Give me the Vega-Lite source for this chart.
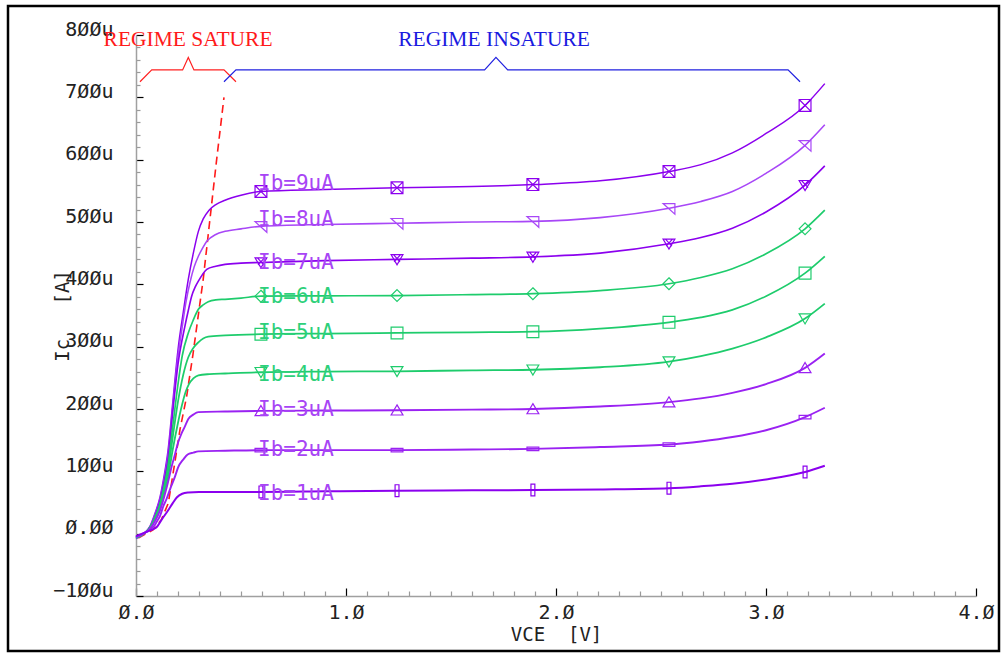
{
"$schema": "https://vega.github.io/schema/vega-lite/v6.json",
"width": 991, "height": 645,
"autosize": {"type": "none"},
"padding": {"left": 8, "top": 6, "right": 4, "bottom": 2},
"background": "#ffffff",
"config": {"view": {"stroke": "#000000", "strokeWidth": 2.5}, "axis": {"grid": false}},
"datasets": {
"curves": [
{"Ib":"9","V":0,"Ic":-8},{"Ib":"9","V":0.045,"Ic":2},{"Ib":"9","V":0.067,"Ic":12},{"Ib":"9","V":0.09,"Ic":32},{"Ib":"9","V":0.114,"Ic":58},{"Ib":"9","V":0.135,"Ic":95},{"Ib":"9","V":0.152,"Ic":132},{"Ib":"9","V":0.175,"Ic":210},{"Ib":"9","V":0.2,"Ic":295},{"Ib":"9","V":0.225,"Ic":355},{"Ib":"9","V":0.249,"Ic":408},{"Ib":"9","V":0.273,"Ic":450},{"Ib":"9","V":0.297,"Ic":485},{"Ib":"9","V":0.32,"Ic":505},{"Ib":"9","V":0.348,"Ic":519},{"Ib":"9","V":0.38,"Ic":528},{"Ib":"9","V":0.424,"Ic":535},{"Ib":"9","V":0.5,"Ic":543},{"Ib":"9","V":0.595,"Ic":549},{"Ib":"9","V":0.9,"Ic":552},{"Ib":"9","V":1.243,"Ic":555},{"Ib":"9","V":1.6,"Ic":557},{"Ib":"9","V":1.89,"Ic":560},{"Ib":"9","V":2.21,"Ic":566},{"Ib":"9","V":2.538,"Ic":581},{"Ib":"9","V":2.69,"Ic":592},{"Ib":"9","V":2.84,"Ic":611},{"Ib":"9","V":3.0,"Ic":642},{"Ib":"9","V":3.186,"Ic":687},{"Ib":"9","V":3.28,"Ic":722},
{"Ib":"8","V":0,"Ic":-8},{"Ib":"8","V":0.045,"Ic":2},{"Ib":"8","V":0.067,"Ic":11},{"Ib":"8","V":0.09,"Ic":30},{"Ib":"8","V":0.114,"Ic":55},{"Ib":"8","V":0.135,"Ic":90},{"Ib":"8","V":0.152,"Ic":125},{"Ib":"8","V":0.175,"Ic":202},{"Ib":"8","V":0.2,"Ic":285},{"Ib":"8","V":0.218,"Ic":327},{"Ib":"8","V":0.237,"Ic":370},{"Ib":"8","V":0.257,"Ic":403},{"Ib":"8","V":0.277,"Ic":428},{"Ib":"8","V":0.297,"Ic":445},{"Ib":"8","V":0.317,"Ic":458},{"Ib":"8","V":0.337,"Ic":469},{"Ib":"8","V":0.38,"Ic":480},{"Ib":"8","V":0.424,"Ic":485},{"Ib":"8","V":0.5,"Ic":489},{"Ib":"8","V":0.595,"Ic":493},{"Ib":"8","V":0.9,"Ic":496},{"Ib":"8","V":1.243,"Ic":498},{"Ib":"8","V":1.6,"Ic":500},{"Ib":"8","V":1.89,"Ic":501},{"Ib":"8","V":2.21,"Ic":507},{"Ib":"8","V":2.538,"Ic":522},{"Ib":"8","V":2.69,"Ic":533},{"Ib":"8","V":2.84,"Ic":549},{"Ib":"8","V":3.0,"Ic":578},{"Ib":"8","V":3.186,"Ic":623},{"Ib":"8","V":3.28,"Ic":656},
{"Ib":"7","V":0,"Ic":-7},{"Ib":"7","V":0.045,"Ic":2},{"Ib":"7","V":0.067,"Ic":11},{"Ib":"7","V":0.09,"Ic":28},{"Ib":"7","V":0.114,"Ic":52},{"Ib":"7","V":0.135,"Ic":85},{"Ib":"7","V":0.152,"Ic":118},{"Ib":"7","V":0.175,"Ic":195},{"Ib":"7","V":0.2,"Ic":272},{"Ib":"7","V":0.233,"Ic":333},{"Ib":"7","V":0.249,"Ic":358},{"Ib":"7","V":0.265,"Ic":381},{"Ib":"7","V":0.281,"Ic":395},{"Ib":"7","V":0.297,"Ic":405},{"Ib":"7","V":0.317,"Ic":416},{"Ib":"7","V":0.337,"Ic":424},{"Ib":"7","V":0.38,"Ic":429},{"Ib":"7","V":0.424,"Ic":432},{"Ib":"7","V":0.5,"Ic":434},{"Ib":"7","V":0.595,"Ic":435},{"Ib":"7","V":0.9,"Ic":438},{"Ib":"7","V":1.243,"Ic":440},{"Ib":"7","V":1.6,"Ic":442},{"Ib":"7","V":1.89,"Ic":444},{"Ib":"7","V":2.21,"Ic":450},{"Ib":"7","V":2.538,"Ic":465},{"Ib":"7","V":2.69,"Ic":475},{"Ib":"7","V":2.84,"Ic":490},{"Ib":"7","V":3.0,"Ic":516},{"Ib":"7","V":3.186,"Ic":559},{"Ib":"7","V":3.28,"Ic":590},
{"Ib":"6","V":0,"Ic":-7},{"Ib":"6","V":0.045,"Ic":2},{"Ib":"6","V":0.067,"Ic":10},{"Ib":"6","V":0.09,"Ic":26},{"Ib":"6","V":0.114,"Ic":48},{"Ib":"6","V":0.135,"Ic":78},{"Ib":"6","V":0.152,"Ic":108},{"Ib":"6","V":0.175,"Ic":172},{"Ib":"6","V":0.2,"Ic":240},{"Ib":"6","V":0.22,"Ic":285},{"Ib":"6","V":0.249,"Ic":322},{"Ib":"6","V":0.273,"Ic":343},{"Ib":"6","V":0.297,"Ic":360},{"Ib":"6","V":0.32,"Ic":367},{"Ib":"6","V":0.344,"Ic":372},{"Ib":"6","V":0.38,"Ic":375},{"Ib":"6","V":0.424,"Ic":376},{"Ib":"6","V":0.5,"Ic":378},{"Ib":"6","V":0.595,"Ic":381},{"Ib":"6","V":0.9,"Ic":381.5},{"Ib":"6","V":1.243,"Ic":382},{"Ib":"6","V":1.6,"Ic":383.5},{"Ib":"6","V":1.89,"Ic":385},{"Ib":"6","V":2.21,"Ic":390},{"Ib":"6","V":2.538,"Ic":401},{"Ib":"6","V":2.69,"Ic":411},{"Ib":"6","V":2.84,"Ic":425},{"Ib":"6","V":3.0,"Ic":449},{"Ib":"6","V":3.186,"Ic":489},{"Ib":"6","V":3.28,"Ic":519},
{"Ib":"5","V":0,"Ic":-6},{"Ib":"5","V":0.045,"Ic":2},{"Ib":"5","V":0.067,"Ic":10},{"Ib":"5","V":0.09,"Ic":25},{"Ib":"5","V":0.114,"Ic":45},{"Ib":"5","V":0.135,"Ic":72},{"Ib":"5","V":0.152,"Ic":100},{"Ib":"5","V":0.175,"Ic":155},{"Ib":"5","V":0.2,"Ic":212},{"Ib":"5","V":0.225,"Ic":255},{"Ib":"5","V":0.249,"Ic":283},{"Ib":"5","V":0.273,"Ic":298},{"Ib":"5","V":0.297,"Ic":307},{"Ib":"5","V":0.32,"Ic":313},{"Ib":"5","V":0.344,"Ic":316},{"Ib":"5","V":0.424,"Ic":318},{"Ib":"5","V":0.595,"Ic":320},{"Ib":"5","V":0.9,"Ic":321},{"Ib":"5","V":1.243,"Ic":322},{"Ib":"5","V":1.6,"Ic":323},{"Ib":"5","V":1.89,"Ic":324},{"Ib":"5","V":2.21,"Ic":329},{"Ib":"5","V":2.538,"Ic":339},{"Ib":"5","V":2.69,"Ic":347},{"Ib":"5","V":2.84,"Ic":359},{"Ib":"5","V":3.0,"Ic":381},{"Ib":"5","V":3.186,"Ic":418},{"Ib":"5","V":3.28,"Ic":445},
{"Ib":"4","V":0,"Ic":-6},{"Ib":"4","V":0.045,"Ic":2},{"Ib":"4","V":0.067,"Ic":9},{"Ib":"4","V":0.09,"Ic":23},{"Ib":"4","V":0.114,"Ic":42},{"Ib":"4","V":0.135,"Ic":66},{"Ib":"4","V":0.152,"Ic":90},{"Ib":"4","V":0.175,"Ic":135},{"Ib":"4","V":0.2,"Ic":178},{"Ib":"4","V":0.218,"Ic":205},{"Ib":"4","V":0.237,"Ic":228},{"Ib":"4","V":0.252,"Ic":240},{"Ib":"4","V":0.273,"Ic":249},{"Ib":"4","V":0.297,"Ic":254},{"Ib":"4","V":0.35,"Ic":256},{"Ib":"4","V":0.424,"Ic":257},{"Ib":"4","V":0.595,"Ic":259},{"Ib":"4","V":0.9,"Ic":260},{"Ib":"4","V":1.243,"Ic":260.5},{"Ib":"4","V":1.6,"Ic":262},{"Ib":"4","V":1.89,"Ic":263},{"Ib":"4","V":2.21,"Ic":267},{"Ib":"4","V":2.538,"Ic":276},{"Ib":"4","V":2.69,"Ic":285},{"Ib":"4","V":2.84,"Ic":297},{"Ib":"4","V":3.0,"Ic":315},{"Ib":"4","V":3.186,"Ic":345},{"Ib":"4","V":3.28,"Ic":369},
{"Ib":"3","V":0,"Ic":-5},{"Ib":"3","V":0.045,"Ic":2},{"Ib":"3","V":0.067,"Ic":8},{"Ib":"3","V":0.09,"Ic":20},{"Ib":"3","V":0.114,"Ic":37},{"Ib":"3","V":0.135,"Ic":60},{"Ib":"3","V":0.152,"Ic":82},{"Ib":"3","V":0.17,"Ic":108},{"Ib":"3","V":0.186,"Ic":128},{"Ib":"3","V":0.2,"Ic":146},{"Ib":"3","V":0.217,"Ic":161},{"Ib":"3","V":0.233,"Ic":172},{"Ib":"3","V":0.249,"Ic":184},{"Ib":"3","V":0.273,"Ic":191},{"Ib":"3","V":0.297,"Ic":195},{"Ib":"3","V":0.424,"Ic":196},{"Ib":"3","V":0.595,"Ic":197},{"Ib":"3","V":0.9,"Ic":197.5},{"Ib":"3","V":1.243,"Ic":198},{"Ib":"3","V":1.6,"Ic":199},{"Ib":"3","V":1.89,"Ic":200},{"Ib":"3","V":2.21,"Ic":204},{"Ib":"3","V":2.538,"Ic":211},{"Ib":"3","V":2.69,"Ic":217},{"Ib":"3","V":2.84,"Ic":226},{"Ib":"3","V":3.0,"Ic":240},{"Ib":"3","V":3.186,"Ic":266},{"Ib":"3","V":3.28,"Ic":289},
{"Ib":"2","V":0,"Ic":-5},{"Ib":"2","V":0.045,"Ic":2},{"Ib":"2","V":0.067,"Ic":7},{"Ib":"2","V":0.09,"Ic":14},{"Ib":"2","V":0.1,"Ic":20},{"Ib":"2","V":0.114,"Ic":28},{"Ib":"2","V":0.13,"Ic":44},{"Ib":"2","V":0.146,"Ic":56},{"Ib":"2","V":0.165,"Ic":74},{"Ib":"2","V":0.186,"Ic":92},{"Ib":"2","V":0.2,"Ic":106},{"Ib":"2","V":0.225,"Ic":119},{"Ib":"2","V":0.246,"Ic":127},{"Ib":"2","V":0.273,"Ic":130},{"Ib":"2","V":0.297,"Ic":132},{"Ib":"2","V":0.424,"Ic":133},{"Ib":"2","V":0.595,"Ic":134},{"Ib":"2","V":0.9,"Ic":134},{"Ib":"2","V":1.243,"Ic":134},{"Ib":"2","V":1.6,"Ic":135},{"Ib":"2","V":1.89,"Ic":136},{"Ib":"2","V":2.21,"Ic":139},{"Ib":"2","V":2.538,"Ic":143},{"Ib":"2","V":2.69,"Ic":148},{"Ib":"2","V":2.84,"Ic":155},{"Ib":"2","V":3.0,"Ic":166},{"Ib":"2","V":3.186,"Ic":187},{"Ib":"2","V":3.28,"Ic":202},
{"Ib":"1","V":0,"Ic":-4},{"Ib":"1","V":0.045,"Ic":2},{"Ib":"1","V":0.059,"Ic":4},{"Ib":"1","V":0.08,"Ic":7},{"Ib":"1","V":0.1,"Ic":11},{"Ib":"1","V":0.125,"Ic":24},{"Ib":"1","V":0.154,"Ic":38},{"Ib":"1","V":0.175,"Ic":49},{"Ib":"1","V":0.194,"Ic":58},{"Ib":"1","V":0.22,"Ic":64},{"Ib":"1","V":0.249,"Ic":66},{"Ib":"1","V":0.3,"Ic":67},{"Ib":"1","V":0.595,"Ic":67},{"Ib":"1","V":0.9,"Ic":68},{"Ib":"1","V":1.243,"Ic":69},{"Ib":"1","V":1.6,"Ic":69.5},{"Ib":"1","V":1.89,"Ic":70},{"Ib":"1","V":2.21,"Ic":71},{"Ib":"1","V":2.538,"Ic":73},{"Ib":"1","V":2.69,"Ic":76},{"Ib":"1","V":2.84,"Ic":80},{"Ib":"1","V":3.0,"Ic":87},{"Ib":"1","V":3.186,"Ic":99},{"Ib":"1","V":3.28,"Ic":109}
],
"markers": [
{"Ib":"9","V":0.595,"Ic":549},{"Ib":"9","V":1.243,"Ic":555},{"Ib":"9","V":1.89,"Ic":560},{"Ib":"9","V":2.538,"Ic":581},{"Ib":"9","V":3.186,"Ic":687},
{"Ib":"8","V":0.595,"Ic":493},{"Ib":"8","V":1.243,"Ic":498},{"Ib":"8","V":1.89,"Ic":501},{"Ib":"8","V":2.538,"Ic":522},{"Ib":"8","V":3.186,"Ic":623},
{"Ib":"7","V":0.595,"Ic":435},{"Ib":"7","V":1.243,"Ic":440},{"Ib":"7","V":1.89,"Ic":444},{"Ib":"7","V":2.538,"Ic":465},{"Ib":"7","V":3.186,"Ic":559},
{"Ib":"6","V":0.595,"Ic":381},{"Ib":"6","V":1.243,"Ic":382},{"Ib":"6","V":1.89,"Ic":385},{"Ib":"6","V":2.538,"Ic":401},{"Ib":"6","V":3.186,"Ic":489},
{"Ib":"5","V":0.595,"Ic":320},{"Ib":"5","V":1.243,"Ic":322},{"Ib":"5","V":1.89,"Ic":324},{"Ib":"5","V":2.538,"Ic":339},{"Ib":"5","V":3.186,"Ic":418},
{"Ib":"4","V":0.595,"Ic":259},{"Ib":"4","V":1.243,"Ic":260.5},{"Ib":"4","V":1.89,"Ic":263},{"Ib":"4","V":2.538,"Ic":276},{"Ib":"4","V":3.186,"Ic":345},
{"Ib":"3","V":0.595,"Ic":197},{"Ib":"3","V":1.243,"Ic":198},{"Ib":"3","V":1.89,"Ic":200},{"Ib":"3","V":2.538,"Ic":211},{"Ib":"3","V":3.186,"Ic":266},
{"Ib":"2","V":0.595,"Ic":134},{"Ib":"2","V":1.243,"Ic":134},{"Ib":"2","V":1.89,"Ic":136},{"Ib":"2","V":2.538,"Ic":143},{"Ib":"2","V":3.186,"Ic":187},
{"Ib":"1","V":0.595,"Ic":67},{"Ib":"1","V":1.243,"Ic":69},{"Ib":"1","V":1.89,"Ic":70},{"Ib":"1","V":2.538,"Ic":73},{"Ib":"1","V":3.186,"Ic":99}
],
"labels": [
{"Ib":"9","V":0.581,"Ic":561,"label":"Ib=9uA"},
{"Ib":"8","V":0.581,"Ic":504,"label":"Ib=8uA"},
{"Ib":"7","V":0.581,"Ic":435,"label":"Ib=7uA"},
{"Ib":"6","V":0.581,"Ic":379,"label":"Ib=6uA"},
{"Ib":"5","V":0.581,"Ic":322,"label":"Ib=5uA"},
{"Ib":"4","V":0.581,"Ic":255,"label":"Ib=4uA"},
{"Ib":"3","V":0.581,"Ic":199,"label":"Ib=3uA"},
{"Ib":"2","V":0.581,"Ic":134,"label":"Ib=2uA"},
{"Ib":"1","V":0.581,"Ic":64,"label":"Ib=1uA"}
],
"satline": [
{"V":0.011,"Ic":-7},{"V":0.081,"Ic":6},{"V":0.12,"Ic":22},{"V":0.154,"Ic":49},{"V":0.19,"Ic":125},{"V":0.21,"Ic":168},{"V":0.241,"Ic":220},{"V":0.271,"Ic":287},{"V":0.32,"Ic":408},{"V":0.352,"Ic":504},{"V":0.384,"Ic":600},{"V":0.419,"Ic":700}
],
"bracketSat": [
{"V":0.019,"Ic":725},{"V":0.075,"Ic":744},{"V":0.222,"Ic":744},{"V":0.249,"Ic":764},{"V":0.276,"Ic":744},{"V":0.419,"Ic":744},{"V":0.476,"Ic":725}
],
"bracketInsat": [
{"V":0.419,"Ic":725},{"V":0.476,"Ic":744},{"V":1.66,"Ic":744},{"V":1.714,"Ic":764},{"V":1.77,"Ic":744},{"V":3.105,"Ic":744},{"V":3.162,"Ic":725}
]
},
"encoding": {
"x": {"field": "V", "type": "quantitative",
 "scale": {"domain": [0, 4], "range": [128, 968], "nice": false, "zero": false},
 "axis": {
  "values": [0,0.1,0.2,0.3,0.4,0.5,0.6,0.7,0.8,0.9,1,1.1,1.2,1.3,1.4,1.5,1.6,1.7,1.8,1.9,2,2.1,2.2,2.3,2.4,2.5,2.6,2.7,2.8,2.9,3,3.1,3.2,3.3,3.4,3.5,3.6,3.7,3.8,3.9,4],
  "labelExpr": "abs(datum.value - round(datum.value)) > 0.001 ? '' : replace(format(datum.value, '.1f'), regexp('0', 'g'), 'Ø')",
  "offset": -55,
  "domainColor": "#a0a0a0", "domainWidth": 1.5,
  "tickColor": {"condition": {"test": "abs(datum.value - round(datum.value)) < 0.001", "value": "#000000"}, "value": "#9a9a9a"},
  "tickSize": {"condition": {"test": "abs(datum.value - round(datum.value)) < 0.001", "value": -8}, "value": -5},
  "tickWidth": 1.2,
  "labelFont": "DejaVu Sans Mono", "labelFontSize": 20, "labelColor": "#222222",
  "labelBaseline": "top", "labelPadding": 14, "labelOverlap": false, "labelFlush": false, "labelBound": false,
  "title": "VCE\u00a0\u00a0[V]", "titleFont": "DejaVu Sans Mono", "titleFontSize": 19, "titleFontWeight": "normal", "titleColor": "#222222",
  "titleX": 548, "titleY": 38, "titleBaseline": "middle", "titleAlign": "center"
 }},
"y": {"field": "Ic", "type": "quantitative",
 "scale": {"domain": [-100, 800], "range": [590, 29], "nice": false, "zero": false},
 "axis": {
  "values": [-100,-80,-60,-40,-20,0,20,40,60,80,100,120,140,160,180,200,220,240,260,280,300,320,340,360,380,400,420,440,460,480,500,520,540,560,580,600,620,640,660,680,700,720,740,760,780,800],
  "labelExpr": "datum.value % 100 != 0 ? '' : (datum.value == 0 ? 'Ø.ØØ' : (datum.value < 0 ? '−' : '') + replace(format(abs(datum.value), 'd'), regexp('0', 'g'), 'Ø') + 'u')",
  "offset": -128,
  "domainColor": "#a0a0a0", "domainWidth": 1.5,
  "tickColor": {"condition": {"test": "datum.value % 100 == 0", "value": "#000000"}, "value": "#9a9a9a"},
  "tickSize": {"condition": {"test": "datum.value % 100 == 0", "value": -7}, "value": -4},
  "tickWidth": 1.2,
  "labelFont": "DejaVu Sans Mono", "labelFontSize": 20, "labelColor": "#222222",
  "labelBaseline": "middle", "labelAlign": "right", "labelOffset": -6, "labelPadding": 30, "labelOverlap": false, "labelFlush": false, "labelBound": false,
  "title": "Ic\u00a0\u00a0\u00a0[A]", "titleFont": "DejaVu Sans Mono", "titleFontSize": 19, "titleFontWeight": "normal", "titleColor": "#222222",
  "titleX": -74, "titleY": 309.5, "titleAngle": -90, "titleBaseline": "middle", "titleAlign": "center"
 }}
},
"layer": [
{"data": {"name": "satline"}, "mark": {"type": "line", "color": "#ff1a1a", "strokeWidth": 1.6, "strokeDash": [8, 5]}},
{"data": {"name": "curves"}, "mark": {"type": "line", "interpolate": "monotone"},
 "encoding": {
  "color": {"field": "Ib", "type": "nominal", "legend": null, "scale": {"domain": ["1","2","3","4","5","6","7","8","9"], "range": ["#8b00ee","#9a22f2","#9a22f2","#1ecc6c","#1ecc6c","#1ecc6c","#8b00ee","#a847f7","#8b00ee"]}},
  "strokeWidth": {"field": "Ib", "type": "ordinal", "legend": null, "scale": {"domain": ["1","2","3","4","5","6","7","8","9"], "range": [2,1.5,1.5,1.3,1.3,1.3,2,1.2,2]}}
 }},
{"data": {"name": "markers"}, "mark": {"type": "point", "filled": false, "size": 140, "strokeWidth": 1.2, "opacity": 1},
 "encoding": {
  "color": {"field": "Ib", "type": "nominal", "legend": null},
  "shape": {"field": "Ib", "type": "nominal", "legend": null, "scale": {"domain": ["1","2","3","4","5","6","7","8","9"], "range": [
   "M-0.33,-1L0.33,-1L0.33,1L-0.33,1Z",
   "M-1,-0.3L1,-0.3L1,0.3L-1,0.3Z",
   "M0,-0.9L1,0.8L-1,0.8Z",
   "M-1,-0.8L1,-0.8L0,0.9Z",
   "M-1,-1L1,-1L1,1L-1,1Z",
   "M0,-1L1,0L0,1L-1,0Z",
   "M-1,-0.8L1,-0.8L0,0.9Z M-0.6,-0.8L0.5,0.4 M0.6,-0.8L-0.5,0.4",
   "M-1,-0.8L1,-0.8L1,1Z",
   "M-1,-1L1,-1L1,1L-1,1Z M-1,-1L1,1 M-1,1L1,-1"]}}
 }},
{"data": {"name": "labels"}, "mark": {"type": "text", "align": "left", "baseline": "middle", "font": "DejaVu Sans Mono", "fontSize": 21},
 "encoding": {
  "text": {"field": "label"},
  "fill": {"field": "Ib", "type": "nominal", "legend": null, "scale": {"domain": ["1","2","3","4","5","6","7","8","9"], "range": ["#a845f5","#a845f5","#a845f5","#2dd07a","#2dd07a","#2dd07a","#a845f5","#a845f5","#a845f5"]}}
 }},
{"data": {"name": "bracketSat"}, "mark": {"type": "line", "color": "#ff2020", "strokeWidth": 1.2}},
{"data": {"name": "bracketInsat"}, "mark": {"type": "line", "color": "#2020e0", "strokeWidth": 1.2}},
{"data": {"values": [{"V": 0.248, "Ic": 792, "label": "REGIME SATURE"}]}, "mark": {"type": "text", "align": "center", "baseline": "middle", "font": "Liberation Serif", "fontSize": 21.5, "color": "#ff1a1a"}, "encoding": {"text": {"field": "label"}}},
{"data": {"values": [{"V": 1.705, "Ic": 792, "label": "REGIME INSATURE"}]}, "mark": {"type": "text", "align": "center", "baseline": "middle", "font": "Liberation Serif", "fontSize": 21.5, "color": "#1a1adf"}, "encoding": {"text": {"field": "label"}}}
]
}
